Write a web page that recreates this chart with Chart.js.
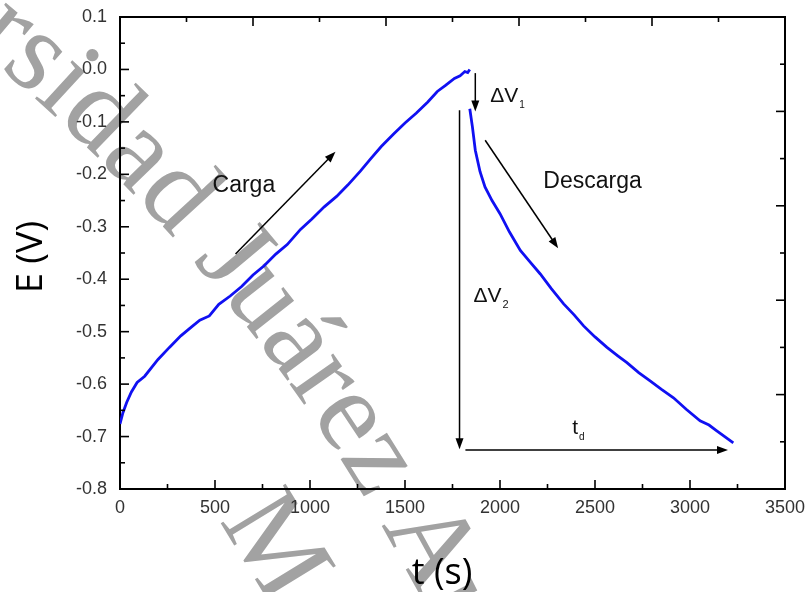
<!DOCTYPE html>
<html>
<head>
<meta charset="utf-8">
<script src="https://cdn.jsdelivr.net/npm/chart.js@4.4.0/dist/chart.umd.min.js"></script>
<style>
  html, body { margin: 0; padding: 0; background: #fff; }
  #wrap { width: 808px; height: 592px; }
</style>
</head>
<body>
<div id="wrap"><canvas id="gcdChart" width="808" height="592"></canvas></div>
<script>
// Galvanostatic charge / discharge curve, E (V) vs t (s)
const chargeTime = [0, 15, 35, 60, 90, 130, 200, 260, 320, 380, 420, 470, 520, 580, 640, 700,
    760, 820, 880, 950, 1010, 1075, 1140, 1200, 1265, 1320, 1375, 1440, 1500, 1560, 1620,
    1670, 1715, 1760, 1790, 1815, 1830, 1841];
const chargeE = [-0.676, -0.655, -0.635, -0.615, -0.597, -0.585, -0.553, -0.530, -0.508, -0.490,
    -0.478, -0.470, -0.448, -0.432, -0.414, -0.392, -0.374, -0.352, -0.334, -0.305, -0.285,
    -0.262, -0.242, -0.220, -0.194, -0.170, -0.147, -0.123, -0.102, -0.083, -0.062, -0.042,
    -0.030, -0.017, -0.012, -0.004, -0.006, 0.000];

const dischargeTime = [1841, 1855, 1870, 1895, 1921, 1958, 2000, 2050, 2107, 2160, 2212, 2270,
    2335, 2390, 2440, 2500, 2563, 2620, 2668, 2730, 2790, 2850, 2913, 2980, 3053, 3100, 3141,
    3190, 3228];
const dischargeE = [-0.075, -0.110, -0.154, -0.195, -0.224, -0.250, -0.275, -0.310, -0.345,
    -0.368, -0.390, -0.418, -0.447, -0.468, -0.489, -0.510, -0.530, -0.546, -0.559, -0.578,
    -0.594, -0.610, -0.626, -0.648, -0.670, -0.678, -0.689, -0.702, -0.712];

const xTicks = [0, 500, 1000, 1500, 2000, 2500, 3000, 3500];
const yTicks = [-0.8, -0.7, -0.6, -0.5, -0.4, -0.3, -0.2, -0.1, 0.0, 0.1];

const toPoints = (xs, ys) => xs.map((x, i) => ({ x: x, y: ys[i] }));

const tickFont = { family: '"Liberation Sans", Arial, sans-serif', size: 18 };

// background seal text, set along a large arc
const watermark = {
    id: 'watermark',
    beforeDraw(chart) {
        const ctx = chart.ctx;
        ctx.save();
        ctx.fillStyle = '#a2a2a2';
        ctx.font = '116px "Liberation Serif", "Times New Roman", serif';
        ctx.textAlign = 'center';
        ctx.textBaseline = 'alphabetic';
        const cx = -1174, cy = 1432;
        const arcText = (text, r, start) => {
            let a = start;
            for (const ch of text) {
                const w = ctx.measureText(ch).width;
                const mid = a + w / 2 / r;
                ctx.save();
                ctx.translate(cx + r * Math.cos(mid), cy + r * Math.sin(mid));
                ctx.rotate(mid + Math.PI / 2);
                ctx.fillText(ch, 0, 0);
                ctx.restore();
                a += w / r;
            }
        };
        const deg = Math.PI / 180;
        const lead = ctx.measureText('Universidad ').width;
        arcText('Universidad Juárez Autónoma de Tabasco', 1800, -40.6 * deg - lead / 1800);
        arcText('México', 1664, -33.2 * deg);
        ctx.restore();
    }
};

// tick marks pointing into the plot on all four sides
const innerTicks = {
    id: 'innerTicks',
    afterDraw(chart) {
        const { ctx, chartArea: a, scales } = chart;
        ctx.save();
        ctx.strokeStyle = '#000';
        ctx.lineWidth = 1.6;
        const mark = (x1, y1, x2, y2) => {
            ctx.beginPath();
            ctx.moveTo(x1, y1);
            ctx.lineTo(x2, y2);
            ctx.stroke();
        };
        for (let v = 0; v <= 3500; v += 250) {
            const x = scales.x.getPixelForValue(v);
            mark(x, a.bottom, x, a.bottom - (v % 500 === 0 ? 9 : 5));
        }
        for (let i = -16; i <= 2; i++) {
            const y = scales.y.getPixelForValue(i * 0.05);
            mark(a.left, y, a.left + (i % 2 === 0 ? 9 : 5), y);
        }
        for (let i = 0; i <= 10; i++) {
            const x = scales.xTop.getPixelForValue(i);
            mark(x, a.top, x, a.top + (i % 2 === 0 ? 9 : 5));
            const y = scales.yRight.getPixelForValue(i);
            mark(a.right, y, a.right - (i % 2 === 0 ? 9 : 5), y);
        }
        ctx.restore();
    }
};

// arrows and labels for charge, discharge, ΔV1, ΔV2 and t_d
const annotations = {
    id: 'annotations',
    afterDatasetsDraw(chart) {
        const { ctx, scales } = chart;
        const px = t => scales.x.getPixelForValue(t);
        const py = e => scales.y.getPixelForValue(e);
        ctx.save();
        ctx.strokeStyle = '#000';
        ctx.fillStyle = '#000';
        ctx.lineWidth = 1.5;

        const arrow = (t1, e1, t2, e2) => {
            const x1 = px(t1), y1 = py(e1), x2 = px(t2), y2 = py(e2);
            const ang = Math.atan2(y2 - y1, x2 - x1);
            const hl = 11, hw = 4;
            ctx.beginPath();
            ctx.moveTo(x1, y1);
            ctx.lineTo(x2 - hl * 0.8 * Math.cos(ang), y2 - hl * 0.8 * Math.sin(ang));
            ctx.stroke();
            ctx.beginPath();
            ctx.moveTo(x2, y2);
            ctx.lineTo(x2 - hl * Math.cos(ang) + hw * Math.sin(ang), y2 - hl * Math.sin(ang) - hw * Math.cos(ang));
            ctx.lineTo(x2 - hl * Math.cos(ang) - hw * Math.sin(ang), y2 - hl * Math.sin(ang) + hw * Math.cos(ang));
            ctx.closePath();
            ctx.fill();
        };

        arrow(608, -0.352, 1134, -0.157);      // Carga
        arrow(1922, -0.135, 2306, -0.341);     // Descarga
        arrow(1870, -0.007, 1870, -0.080);     // ΔV1
        arrow(1787, -0.078, 1787, -0.724);     // ΔV2
        arrow(1818, -0.7255, 3200, -0.7255);   // t_d

        const label = (text, sub, t, e, size, subSize) => {
            const x = px(t), y = py(e);
            ctx.fillStyle = '#111';
            ctx.textAlign = 'left';
            ctx.textBaseline = 'alphabetic';
            ctx.font = size + 'px "Liberation Sans", Arial, sans-serif';
            ctx.fillText(text, x, y);
            if (sub) {
                const w = ctx.measureText(text).width;
                ctx.font = subSize + 'px "Liberation Sans", Arial, sans-serif';
                ctx.fillText(sub, x + w + 1, y + 6);
            }
        };
        label('Carga', '', 487, -0.234, 23);
        label('Descarga', '', 2228, -0.226, 23);
        label('\u0394V', '1', 1949, -0.062, 21, 10);
        label('\u0394V', '2', 1860, -0.444, 21, 11);
        label('t', 'd', 2380, -0.695, 21, 10);

        // axis titles
        ctx.fillStyle = '#000';
        ctx.font = '36px "Open Sans", sans-serif';
        ctx.textAlign = 'center';
        ctx.textBaseline = 'alphabetic';
        ctx.fillText('t (s)', 442, 584);
        ctx.translate(42, 257);
        ctx.rotate(-Math.PI / 2);
        ctx.fillText('E (V)', 0, 0);
        ctx.restore();
    }
};

const lineStyle = {
    borderColor: '#1010f2',
    borderWidth: 2.8,
    pointRadius: 0,
    fill: false,
    tension: 0
};

// fixed box sizes so the frame sits at the same place on every side
const fixBox = (w, h) => s => {
    if (w !== null) s.width = w;
    if (h !== null) s.height = h;
    s.paddingTop = 0;
    s.paddingBottom = 0;
    s.paddingLeft = 0;
    s.paddingRight = 0;
};

new Chart(document.getElementById('gcdChart').getContext('2d'), {
    type: 'line',
    data: {
        datasets: [
            Object.assign({ label: 'Carga', data: toPoints(chargeTime, chargeE) }, lineStyle),
            Object.assign({ label: 'Descarga', data: toPoints(dischargeTime, dischargeE) }, lineStyle)
        ]
    },
    options: {
        responsive: false,
        animation: false,
        devicePixelRatio: 1,
        layout: { padding: 0 },
        plugins: {
            legend: { display: false },
            tooltip: { enabled: false }
        },
        scales: {
            x: {
                type: 'linear',
                position: 'bottom',
                min: 0,
                max: 3500,
                afterFit: fixBox(null, 103),
                afterBuildTicks: s => { s.ticks = xTicks.map(v => ({ value: v })); },
                grid: { drawOnChartArea: false, drawTicks: false },
                border: { display: true, color: '#000', width: 2 },
                ticks: { font: tickFont, color: '#333', padding: 8, maxRotation: 0, callback: v => String(v) }
            },
            y: {
                type: 'linear',
                position: 'left',
                min: -0.8,
                max: 0.1,
                afterFit: fixBox(120, null),
                afterBuildTicks: s => { s.ticks = yTicks.map(v => ({ value: v })); },
                grid: { drawOnChartArea: false, drawTicks: false },
                border: { display: true, color: '#000', width: 2 },
                ticks: { font: tickFont, color: '#333', padding: 13, callback: v => (Math.round(v * 10) / 10).toFixed(1) }
            },
            xTop: {
                type: 'linear',
                position: 'top',
                min: 0,
                max: 10,
                afterFit: fixBox(null, 17),
                grid: { drawOnChartArea: false, drawTicks: false },
                border: { display: true, color: '#000', width: 2 },
                ticks: { display: false }
            },
            yRight: {
                type: 'linear',
                position: 'right',
                min: 0,
                max: 10,
                afterFit: fixBox(23, null),
                grid: { drawOnChartArea: false, drawTicks: false },
                border: { display: true, color: '#000', width: 2 },
                ticks: { display: false }
            }
        }
    },
    plugins: [watermark, innerTicks, annotations]
});
</script>
</body>
</html>
